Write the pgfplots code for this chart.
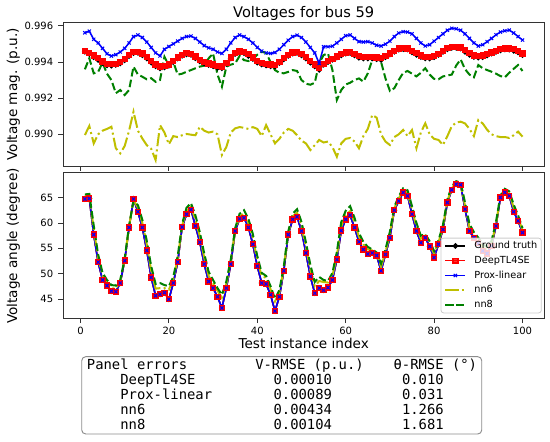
\documentclass[border=0pt]{standalone}
\usepackage{fontspec}
\setmainfont{DejaVu Sans}
\setmonofont{DejaVu Sans Mono}
\usepackage{pgfplots}
\usepackage{pgfplotstable}
\pgfplotsset{compat=1.18}

\definecolor{mplyellow}{rgb}{0.75,0.75,0}
\definecolor{mplgreen}{rgb}{0,0.5,0}

\newcommand\tickfont{\fontsize{7.5}{9}\selectfont}
\newcommand\labfont{\fontsize{10.2}{12}\selectfont}
\newcommand\titfont{\fontsize{10.95}{13}\selectfont}
\newcommand\legfont{\fontsize{7.3}{8.5}\selectfont}
\newcommand\tabfont{\ttfamily\fontsize{10.4}{12.5}\selectfont}

\pgfplotstableread{
i vgt vdeep vprox vnn6 vnn8 agt ann6 ann8
1 0.99456 0.99462 0.99561 0.98996 0.99359 64.7 65.2 65.6
2 0.99444 0.99450 0.99570 0.99046 0.99420 64.8 65.5 65.7
3 0.99426 0.99435 0.99525 0.98950 0.99337 57.7 58.8 59.5
4 0.99411 0.99420 0.99505 0.99000 0.99345 52.3 53.2 53.8
5 0.99393 0.99402 0.99475 0.99020 0.99396 48.8 49.6 50.2
6 0.99381 0.99390 0.99445 0.99030 0.99335 47.7 48.4 48.8
7 0.99379 0.99388 0.99433 0.99042 0.99300 46.6 47.2 47.8
8 0.99384 0.99390 0.99440 0.98923 0.99227 46.5 47.1 47.7
9 0.99392 0.99398 0.99455 0.98895 0.99245 48.2 48.6 48.8
10 0.99409 0.99415 0.99475 0.98935 0.99217 52.6 52.8 53.0
11 0.99432 0.99438 0.99505 0.99020 0.99245 59.1 59.3 59.5
12 0.99449 0.99455 0.99540 0.99125 0.99374 64.7 64.5 64.3
13 0.99450 0.99456 0.99549 0.99020 0.99330 62.2 63.0 63.5
14 0.99437 0.99446 0.99535 0.98977 0.99318 59.1 60.0 60.6
15 0.99419 0.99428 0.99510 0.98940 0.99304 54.6 55.8 56.5
16 0.99396 0.99405 0.99480 0.98920 0.99310 49.3 50.6 51.5
17 0.99376 0.99385 0.99450 0.98858 0.99290 45.7 47.1 48.0
18 0.99365 0.99374 0.99433 0.99051 0.99300 46.0 47.2 48.2
19 0.99370 0.99376 0.99470 0.99010 0.99429 46.3 47.2 47.8
20 0.99379 0.99385 0.99485 0.98945 0.99380 45.0 46.9 47.6
21 0.99399 0.99405 0.99500 0.98990 0.99400 48.2 48.9 49.4
22 0.99419 0.99425 0.99515 0.98985 0.99330 52.3 53.0 53.5
23 0.99434 0.99440 0.99530 0.98995 0.99335 59.2 59.5 59.8
24 0.99442 0.99448 0.99540 0.99002 0.99346 61.7 62.4 63.0
25 0.99439 0.99445 0.99543 0.98998 0.99355 62.6 63.2 63.9
26 0.99421 0.99430 0.99530 0.98995 0.99365 59.4 60.6 61.5
27 0.99403 0.99412 0.99510 0.99042 0.99374 56.2 57.4 58.2
28 0.99391 0.99400 0.99490 0.99020 0.99380 51.9 53.2 54.0
29 0.99383 0.99392 0.99478 0.99010 0.99420 48.5 49.6 50.4
30 0.99376 0.99385 0.99470 0.99015 0.99447 47.2 48.1 48.8
31 0.99367 0.99376 0.99455 0.99000 0.99330 45.5 46.7 47.2
32 0.99365 0.99374 0.99447 0.98886 0.99263 43.3 45.3 45.9
33 0.99389 0.99395 0.99470 0.98930 0.99374 47.2 48.0 48.5
34 0.99419 0.99425 0.99505 0.99010 0.99385 51.9 52.4 52.8
35 0.99444 0.99450 0.99535 0.99033 0.99392 58.4 58.7 59.0
36 0.99452 0.99458 0.99549 0.99040 0.99433 60.8 61.3 61.8
37 0.99449 0.99455 0.99540 0.99036 0.99410 61.0 61.8 62.5
38 0.99433 0.99442 0.99525 0.99030 0.99405 59.1 60.0 60.8
39 0.99416 0.99425 0.99505 0.99040 0.99415 55.8 57.0 57.8
40 0.99396 0.99405 0.99480 0.99030 0.99440 51.5 52.7 53.5
41 0.99386 0.99395 0.99460 0.98990 0.99456 48.2 49.6 50.2
42 0.99381 0.99390 0.99450 0.99051 0.99450 48.0 49.2 49.6
43 0.99376 0.99385 0.99447 0.99000 0.99400 45.9 47.0 47.6
44 0.99374 0.99383 0.99452 0.98950 0.99355 42.7 44.6 45.1
45 0.99394 0.99400 0.99470 0.98975 0.99340 45.5 46.3 46.8
46 0.99414 0.99420 0.99495 0.99010 0.99337 50.6 51.1 51.5
47 0.99434 0.99440 0.99520 0.99030 0.99345 57.7 58.0 58.3
48 0.99446 0.99452 0.99540 0.99020 0.99355 60.7 61.3 61.8
49 0.99450 0.99456 0.99548 0.98995 0.99350 61.2 62.0 62.7
50 0.99436 0.99445 0.99535 0.98965 0.99300 58.4 59.3 60.2
51 0.99419 0.99428 0.99510 0.98950 0.99280 54.1 55.3 56.2
52 0.99396 0.99405 0.99480 0.98913 0.99274 49.5 50.8 51.8
53 0.99376 0.99385 0.99450 0.98940 0.99285 46.2 47.6 48.4
54 0.99356 0.99365 0.99392 0.98969 0.99392 47.2 48.6 49.4
55 0.99384 0.99390 0.99484 0.98955 0.99438 46.8 48.4 48.8
56 0.99399 0.99405 0.99484 0.98960 0.99447 47.3 48.3 48.6
57 0.99412 0.99418 0.99487 0.98930 0.99355 48.8 49.6 50.2
58 0.99424 0.99430 0.99505 0.98876 0.99190 52.8 53.6 54.3
59 0.99436 0.99442 0.99525 0.98950 0.99245 58.5 59.3 60.2
60 0.99446 0.99452 0.99545 0.98975 0.99275 60.7 61.6 62.4
61 0.99450 0.99456 0.99549 0.98980 0.99285 61.5 62.3 63.3
62 0.99436 0.99445 0.99530 0.98960 0.99300 59.1 60.1 61.0
63 0.99423 0.99432 0.99512 0.98923 0.99309 56.3 57.3 58.0
64 0.99419 0.99428 0.99510 0.98990 0.99291 54.8 55.8 56.3
65 0.99419 0.99428 0.99512 0.99030 0.99337 53.9 54.8 55.3
66 0.99419 0.99428 0.99505 0.99107 0.99410 54.1 54.6 54.8
67 0.99415 0.99424 0.99492 0.99092 0.99420 53.6 53.9 54.2
68 0.99411 0.99420 0.99488 0.99000 0.99400 50.6 51.4 52.0
69 0.99426 0.99432 0.99498 0.98960 0.99309 53.8 54.3 54.8
70 0.99441 0.99447 0.99515 0.98941 0.99240 57.1 57.8 58.3
71 0.99456 0.99462 0.99540 0.98985 0.99255 62.5 62.9 63.2
72 0.99468 0.99474 0.99560 0.99000 0.99300 64.3 64.8 65.2
73 0.99471 0.99477 0.99567 0.99024 0.99340 66.0 66.4 66.8
74 0.99469 0.99475 0.99565 0.98990 0.99350 65.3 65.9 66.4
75 0.99453 0.99462 0.99555 0.99024 0.99335 61.7 62.6 63.3
76 0.99439 0.99448 0.99530 0.98923 0.99320 58.4 59.3 60.0
77 0.99427 0.99436 0.99505 0.99010 0.99340 56.1 56.9 57.5
78 0.99420 0.99429 0.99488 0.99061 0.99365 57.1 57.5 57.8
79 0.99419 0.99428 0.99495 0.99000 0.99330 55.4 55.9 56.4
80 0.99426 0.99432 0.99515 0.98975 0.99306 53.2 53.9 54.5
81 0.99439 0.99445 0.99535 0.98969 0.99304 55.8 56.2 56.6
82 0.99456 0.99462 0.99555 0.98941 0.99320 58.7 59.2 59.6
83 0.99470 0.99476 0.99575 0.98990 0.99325 64.0 64.3 64.6
84 0.99478 0.99484 0.99586 0.99045 0.99330 66.5 66.9 67.2
85 0.99478 0.99484 0.99583 0.99065 0.99380 67.6 67.9 68.2
86 0.99474 0.99480 0.99575 0.99070 0.99414 67.5 67.7 67.9
87 0.99456 0.99465 0.99555 0.99060 0.99360 62.7 63.4 64.0
88 0.99439 0.99448 0.99530 0.99030 0.99330 58.4 59.1 59.8
89 0.99427 0.99436 0.99505 0.98990 0.99315 57.1 57.7 58.2
90 0.99424 0.99433 0.99488 0.99079 0.99383 56.0 56.6 57.1
91 0.99426 0.99435 0.99495 0.99060 0.99365 54.5 55.2 55.8
92 0.99436 0.99442 0.99512 0.99025 0.99355 54.0 54.7 55.3
93 0.99446 0.99452 0.99530 0.99000 0.99346 55.5 56.0 56.5
94 0.99456 0.99462 0.99550 0.98990 0.99335 59.4 59.8 60.2
95 0.99464 0.99470 0.99565 0.98985 0.99322 65.0 65.2 65.4
96 0.99469 0.99475 0.99572 0.98985 0.99315 66.0 66.4 66.7
97 0.99468 0.99474 0.99576 0.98980 0.99340 65.3 65.8 66.2
98 0.99461 0.99470 0.99560 0.98995 0.99362 62.2 63.0 63.6
99 0.99453 0.99462 0.99540 0.99015 0.99383 60.4 61.0 61.5
100 0.99438 0.99447 0.99521 0.98987 0.99350 58.1 58.6 59.0
}\data

\pgfplotsset{
  mpl/.style={
    scale only axis,
    width=361.05pt,
    xmin=-3.95, xmax=104.95,
    xtick={0,20,40,60,80,100},
    tick align=outside,
    tick pos=left,
    major tick length=3.6pt,
    tick style={black!80, line width=0.6pt},
    axis line style={black!80, line width=0.6pt},
    tick label style={font=\tickfont},
    /pgf/number format/assume math mode=true,
    xticklabel style={inner sep=0pt, yshift=-2.4pt},
    yticklabel style={inner sep=0pt, xshift=-3.6pt},
    legend image code/.code={\draw[mark repeat=2,mark phase=2] plot coordinates {(0cm,0cm) (0.265cm,0cm) (0.53cm,0cm)};},
  },
  gtsty/.style={black, line width=1.15pt, mark=*, mark size=1.45pt, mark options={solid}},
  deepsty/.style={red, line width=1.15pt, mark=square*, mark size=1.8pt, mark options={solid}},
  proxsty/.style={blue, line width=1.15pt, mark=x, mark size=1.7pt, mark options={solid, line width=0.75pt}},
  nnsixsty/.style={mplyellow, line width=1.5pt, dash pattern=on 9.8pt off 2.45pt on 1.5pt off 2.45pt},
  nneightsty/.style={mplgreen, line width=1.5pt, dash pattern=on 5.7pt off 2.45pt},
}

\begin{document}
\begin{tikzpicture}
\begin{axis}[
  mpl,
  at={(47.25pt,314.5pt)}, anchor=north west,
  height=107.5pt,
  ymin=0.98825, ymax=0.99617,
  ytick={0.990,0.992,0.994,0.996},
  xticklabels={},
  yticklabel style={/pgf/number format/fixed, /pgf/number format/fixed zerofill, /pgf/number format/precision=3},
]
\addplot[gtsty] table[x=i, y=vgt] {\data};
\addplot[deepsty] table[x=i, y=vdeep] {\data};
\addplot[proxsty] table[x=i, y=vprox] {\data};
\addplot[nnsixsty] table[x=i, y=vnn6] {\data};
\addplot[nneightsty] table[x=i, y=vnn8] {\data};
\end{axis}

\begin{axis}[
  mpl,
  at={(47.25pt,202.1pt)}, anchor=north west,
  height=109.35pt,
  ymin=41.27, ymax=69.9,
  ytick={45,50,55,60,65},
  legend cell align=left,
  legend style={at={(1,0)}, anchor=south east, xshift=-2pt, yshift=3.75pt,
    font=\legfont, draw=black!20, line width=0.6pt, rounded corners=2pt,
    fill=white, fill opacity=0.8, text opacity=1,
    inner xsep=2.5pt, inner ysep=1.8pt, row sep=3pt, column sep=5.3pt,
    nodes={inner sep=0.6pt, text height=5.4pt, text depth=1.5pt}},
]
\addplot[gtsty] table[x=i, y=agt] {\data};
\addlegendentry{Ground truth}
\addplot[deepsty] table[x=i, y=agt] {\data};
\addlegendentry{DeepTL4SE}
\addplot[proxsty] table[x=i, y=agt] {\data};
\addlegendentry{Prox-linear}
\addplot[nnsixsty] table[x=i, y=ann6] {\data};
\addlegendentry{nn6}
\addplot[nneightsty] table[x=i, y=ann8] {\data};
\addlegendentry{nn8}
\end{axis}

% titles and axis labels
\node[anchor=base, inner sep=0pt, font=\titfont] at (227.8pt,318.5pt) {Voltages for bus 59};
\node[rotate=90, inner sep=0pt, font=\labfont] at (10pt,260.7pt) {Voltage mag. (p.u.)};
\node[rotate=90, inner sep=0pt, font=\labfont] at (10pt,147pt) {Voltage angle (degree)};
\node[anchor=base, inner sep=0pt, font=\labfont] at (227.8pt,70.3pt) {Test instance index};

% error table
\draw[black!45, line width=0.7pt, rounded corners=3pt, fill=white] (61.3pt,6pt) rectangle (361.3pt,64pt);
\begin{scope}[every node/.style={anchor=base west, inner sep=0pt, font=\tabfont}]
\node at (65pt,54pt) {Panel errors};
\node at (191.25pt,54pt) {V-RMSE (p.u.)};
\node at (295pt,54pt) {θ-RMSE (°)};
\node at (65pt,42.9pt) {\ \ \ \ DeepTL4SE};
\node at (205pt,42.9pt) {0.00010};
\node at (301.3pt,42.9pt) {0.010};
\node at (65pt,31.8pt) {\ \ \ \ Prox-linear};
\node at (205pt,31.8pt) {0.00089};
\node at (301.3pt,31.8pt) {0.031};
\node at (65pt,20.7pt) {\ \ \ \ nn6};
\node at (205pt,20.7pt) {0.00434};
\node at (301.3pt,20.7pt) {1.266};
\node at (65pt,9.6pt) {\ \ \ \ nn8};
\node at (205pt,9.6pt) {0.00104};
\node at (301.3pt,9.6pt) {1.681};
\end{scope}

\pgfresetboundingbox
\useasboundingbox (0pt,0pt) rectangle (412.5pt,331.5pt);
\end{tikzpicture}
\end{document}
